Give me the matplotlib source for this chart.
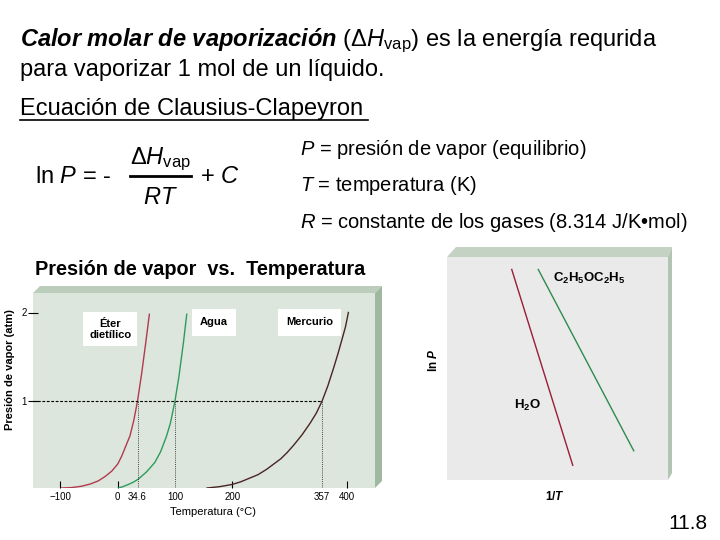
import matplotlib
matplotlib.use('Agg')
import matplotlib.pyplot as plt
from matplotlib.patches import Polygon

plt.rcParams.update({
    'font.family': ['Liberation Sans', 'DejaVu Sans'],
    'mathtext.fontset': 'custom',
    'mathtext.rm': 'Liberation Sans',
    'mathtext.it': 'Liberation Sans:italic',
    'mathtext.bf': 'Liberation Sans:bold',
    'mathtext.bfit': 'Liberation Sans:bold:italic',
    'mathtext.sf': 'Liberation Sans',
})

# vapor pressure curves (atm vs degC)
ether_T = [-98, -80, -63, -48, -34, -22, -10.5, 0, 7, 21.5, 28, 34.6, 42, 49, 55.3]
ether_P = [0.02, 0.025, 0.04, 0.065, 0.10, 0.15, 0.21, 0.29, 0.38, 0.61, 0.78, 1.0, 1.32, 1.66, 1.98]
water_T = [1, 9, 18.6, 27, 36, 50, 57, 65, 75, 85, 92, 100, 107, 114.8, 120.6]
water_P = [0.02, 0.035, 0.06, 0.085, 0.12, 0.2, 0.25, 0.31, 0.43, 0.6, 0.75, 1.0, 1.28, 1.66, 1.98]
mercury_T = [156, 178, 200, 215, 230, 245, 260, 285, 296, 307, 322, 336, 347, 357, 367, 377, 385, 392, 398, 403]
mercury_P = [0.02, 0.035, 0.06, 0.09, 0.13, 0.17, 0.23, 0.35, 0.42, 0.5, 0.62, 0.75, 0.865, 1.0,
             1.17, 1.37, 1.54, 1.7, 1.84, 2.0]
boil_T = [34.6, 100, 357]
tick_T = [-100, 0, 200, 400]
tick_labels = ['\u2212100', '0', '200', '400']
boil_labels = ['34.6', '100', '357']

# ln P vs 1/T sketch (arbitrary units)
h2o_invT = [0.293, 0.569]
h2o_lnP = [0.944, 0.066]
eth_invT = [0.413, 0.845]
eth_lnP = [0.944, 0.131]

W, H = 720, 540
fig = plt.figure(figsize=(7.2, 5.4), dpi=100)

bg = fig.add_axes([0, 0, 1, 1])
bg.set_xlim(0, W)
bg.set_ylim(H, 0)
bg.axis('off')


def px_axes(x0, y0, x1, y1):
    return fig.add_axes([x0 / W, 1 - y1 / H, (x1 - x0) / W, (y1 - y0) / H])


# ---- slide text ----
bg.text(20, 46, r"$\mathbfit{Calor\ molar\ de\ vaporización}$ ($\Delta\mathit{H}_{\mathrm{vap}}$) es la energía requrida",
        fontsize=17, va='baseline')
bg.text(20, 76, "para vaporizar 1 mol de un líquido.", fontsize=17, va='baseline')
bg.text(20, 115, "Ecuación de Clausius-Clapeyron", fontsize=17, va='baseline')
bg.plot([20, 368], [120, 120], color='black', lw=1.2)

bg.text(35, 183, r"ln $\mathit{P}$ = -", fontsize=17, va='baseline')
bg.text(160, 164, r"$\Delta\mathit{H}_{\mathrm{vap}}$", fontsize=17, va='baseline', ha='center')
bg.plot([130, 191], [176, 176], color='black', lw=2)
bg.text(160, 204, r"$\mathit{RT}$", fontsize=17, va='baseline', ha='center')
bg.text(200, 183, r"+ $\mathit{C}$", fontsize=17, va='baseline')

bg.text(300, 155, r"$\mathit{P}$ = presión de vapor (equilibrio)", fontsize=14.5, va='baseline')
bg.text(300, 191, r"$\mathit{T}$ = temperatura (K)", fontsize=14.5, va='baseline')
bg.text(300, 228, r"$\mathit{R}$ = constante de los gases (8.314 J/K•mol)", fontsize=14.5, va='baseline')

bg.text(35, 275, "Presión de vapor  vs.  Temperatura", fontsize=14.3, fontweight='bold', va='baseline')
bg.text(708, 529, "11.8", fontsize=15, va='baseline', ha='right')

# ---- left chart: 3D-ish panel ----
bg.add_patch(Polygon([(33, 293), (40, 286), (382, 286), (375, 293)], closed=True,
                     fc='#bccdbc', ec='none'))
bg.add_patch(Polygon([(375, 293), (382, 286), (382, 481), (375, 488)], closed=True,
                     fc='#9fb8a0', ec='none'))

ax1 = px_axes(33, 293, 375, 488)
ax1.set_facecolor('#dce6dc')
ax1.set_xlim(-148, 449.5)
ax1.set_ylim(0.02, 2.22)
for s in ax1.spines.values():
    s.set_visible(False)

ax1.plot(ether_T, ether_P, color='#b03a4e', lw=1)
ax1.plot(water_T, water_P, color='#2e9a5c', lw=1)
ax1.plot(mercury_T, mercury_P, color='#4a2424', lw=1)

ax1.hlines(1, -148, boil_T[-1], colors='black', linestyles=(0, (2.5, 1.5)), lw=0.8)
ax1.vlines(boil_T, 0.02, 1, colors='#444444', linestyles=(0, (1, 1.2)), lw=0.7)

ax1.set_xticks(tick_T, tick_labels)
ax1.set_xticks(boil_T, boil_labels, minor=True)
ax1.tick_params(axis='x', which='major', direction='in', length=5, width=0.8, pad=3, labelsize=7)
ax1.tick_params(axis='x', which='minor', length=0, pad=3, labelsize=7)
ax1.set_yticks([1, 2], ['1', '2'])
ax1.tick_params(axis='y', direction='inout', length=7, width=0.8, pad=1, labelsize=7)

ax1.text(-13, 1.81, "Éter\ndietílico", fontsize=8, fontweight='bold', ha='center', va='center',
         multialignment='center', bbox=dict(fc='white', ec='none', boxstyle='square,pad=0.55'))
ax1.text(168, 1.89, "Agua", fontsize=8, fontweight='bold', ha='center', va='center',
         bbox=dict(fc='white', ec='none', boxstyle='square,pad=0.75'))
ax1.text(335, 1.89, "Mercurio", fontsize=8, fontweight='bold', ha='center', va='center',
         bbox=dict(fc='white', ec='none', boxstyle='square,pad=0.75'))

ax1.text(0.526, -0.123, "Temperatura (°C)", transform=ax1.transAxes, fontsize=8,
         ha='center', va='center')
ax1.text(-0.067, 0.605, "Presión de vapor (atm)", transform=ax1.transAxes, fontsize=8,
         ha='center', va='center', rotation=90, fontweight='bold')

# ---- right chart ----
bg.add_patch(Polygon([(447, 257), (456, 247), (672, 247), (668, 257)], closed=True,
                     fc='#c3d2c3', ec='none'))
bg.add_patch(Polygon([(668, 257), (672, 247), (672, 473), (668, 480)], closed=True,
                     fc='#b2c4b2', ec='none'))

ax2 = px_axes(447, 257, 668, 480)
ax2.set_facecolor('#e9eae9')
ax2.set_xlim(0, 1)
ax2.set_ylim(0, 1)
ax2.set_xticks([])
ax2.set_yticks([])
for s in ax2.spines.values():
    s.set_visible(False)

ax2.plot(h2o_invT, h2o_lnP, color='#9a1c3a', lw=1)
ax2.plot(eth_invT, eth_lnP, color='#2f8a50', lw=1)
ax2.text(0.48, 0.905, r"$\mathbf{C_2H_5OC_2H_5}$", fontsize=9.5, ha='left', va='center')
ax2.text(0.362, 0.336, r"$\mathbf{H_2O}$", fontsize=9.5, ha='center', va='center')
ax2.text(-0.062, 0.537, r"ln $\mathbfit{P}$", fontsize=8.5, fontweight='bold', rotation=90,
         ha='center', va='center', transform=ax2.transAxes)
ax2.text(0.489, -0.076, r"1/$\mathbfit{T}$", fontsize=8.5, fontweight='bold',
         ha='center', va='center', transform=ax2.transAxes, clip_on=False)

fig.savefig('out.png', dpi=100)
